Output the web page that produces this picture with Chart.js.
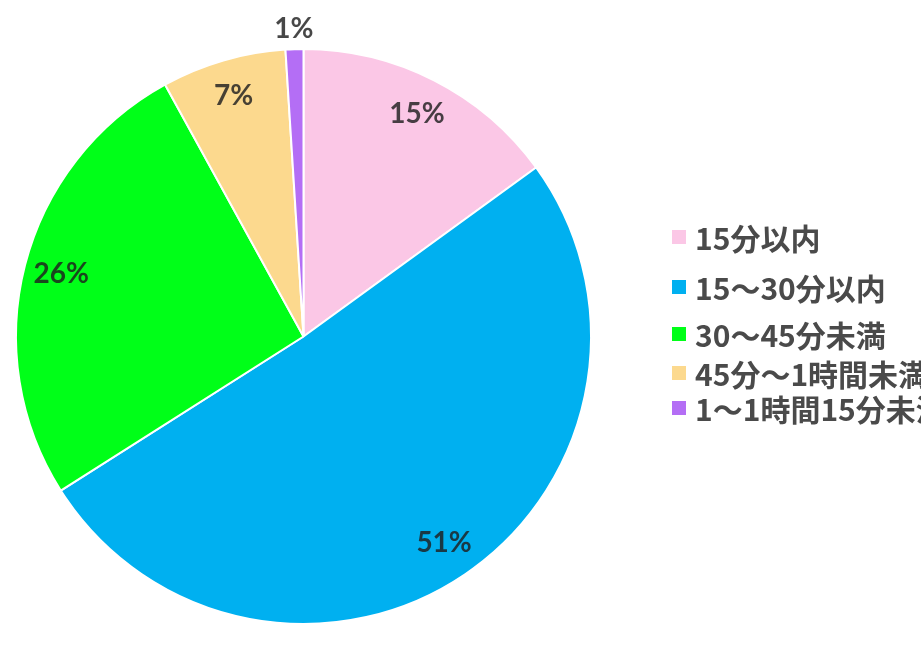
<!DOCTYPE html>
<html>
<head>
<meta charset="utf-8">
<script src="https://cdn.jsdelivr.net/npm/chart.js@4"></script>
<style>
    html, body { margin: 0; padding: 0; background: #fff; overflow: hidden; }
    #wrap { position: relative; width: 921px; height: 672px; overflow: hidden; }
    #legend { position: absolute; left: 672px; top: 0; width: 400px; height: 672px; }
    .row { position: absolute; left: 0; height: 34px; display: flex; align-items: center; white-space: nowrap;
           font-family: "Noto Sans CJK JP", sans-serif; font-weight: bold; font-size: 30px; color: #4a4a4a; }
    .box { width: 14px; height: 14px; margin-right: 9px; flex: none; }
</style>
</head>
<body>
<div id="wrap">
    <canvas id="pieChart" width="921" height="672"></canvas>
    <div id="legend"></div>
</div>
<script>
let labels = ["15分以内", "15〜30分以内", "30〜45分未満", "45分〜1時間未満", "1〜1時間15分未満"];
let values = [15, 51, 26, 7, 1];   // percent
let colors = ["#fbc7e6", "#00b0f0", "#00ff18", "#fcd98e", "#b46ef5"];

// centre y of each legend row (layout only)
let legendRowY = [237, 287, 334, 373, 408];

// draw the % labels on the slices, small slices get it outside
const sliceLabels = {
    id: 'sliceLabels',
    afterDatasetsDraw(chart) {
        let ctx = chart.ctx;
        let meta = chart.getDatasetMeta(0);
        ctx.save();
        ctx.font = 'bold 28px Lato, "Noto Sans", sans-serif';
        ctx.fillStyle = 'rgba(30,30,30,0.82)';
        ctx.textAlign = 'center';
        ctx.textBaseline = 'middle';
        meta.data.forEach((arc, i) => {
            let v = chart.data.datasets[0].data[i];
            let mid = (arc.startAngle + arc.endAngle) / 2;
            let r = arc.outerRadius * (v < 3 ? 1.07 : 0.87);
            ctx.fillText(v + '%', arc.x + Math.cos(mid) * r, arc.y + Math.sin(mid) * r);
        });
        ctx.restore();
    }
};

let chart = new Chart(document.getElementById('pieChart').getContext('2d'), {
    type: 'pie',
    data: {
        labels: labels,
        datasets: [{
            data: values,
            backgroundColor: colors,
            borderColor: '#ffffff',
            borderWidth: 2,
            hoverOffset: 0
        }]
    },
    options: {
        responsive: false,
        animation: false,
        layout: { padding: { left: 15, right: 329, top: 48, bottom: 47 } },
        plugins: {
            legend: { display: false },
            tooltip: { enabled: false }
        }
    },
    plugins: [sliceLabels]
});

// html legend
let legend = document.getElementById('legend');
labels.forEach((name, i) => {
    let row = document.createElement('div');
    row.className = 'row';
    row.style.top = (legendRowY[i] - 17) + 'px';
    let box = document.createElement('span');
    box.className = 'box';
    box.style.background = colors[i];
    row.appendChild(box);
    row.appendChild(document.createTextNode(name));
    legend.appendChild(row);
});
</script>
</body>
</html>
